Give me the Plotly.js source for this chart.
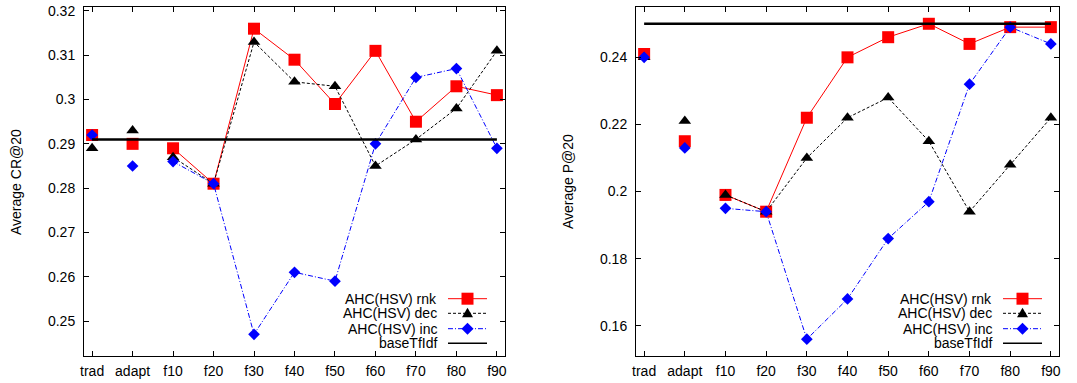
<!DOCTYPE html>
<html><head><meta charset="utf-8">
<script src="https://cdn.plot.ly/plotly-3.0.1.min.js"></script>
<style>html,body{margin:0;padding:0;background:#fff}</style>
</head><body><div id="chart" style="width:1077px;height:383px"></div>
<script>
const categories = ['trad','adapt','f10','f20','f30','f40','f50','f60','f70','f80','f90'];
const seriesNames = ['AHC(HSV) rnk','AHC(HSV) dec','AHC(HSV) inc','baseTfIdf'];

// Left panel: Average CR@20
const crRnk  = [0.292,0.290,0.289,0.281,0.316,0.309,0.299,0.311,0.295,0.303,0.301];
const crDec  = [0.289,0.293,0.287,0.281,0.313,0.304,0.303,0.285,0.291,0.298,0.311];
const crInc  = [0.292,0.285,0.286,0.281,0.247,0.261,0.259,0.290,0.305,0.307,0.289];
const crBase = [0.291,0.291,0.291,0.291,0.291,0.291,0.291,0.291,0.291,0.291,0.291];

// Right panel: Average P@20
const pRnk  = [0.241,0.215,0.199,0.194,0.222,0.240,0.246,0.250,0.244,0.249,0.249];
const pDec  = [0.240,0.221,0.199,0.194,0.210,0.222,0.228,0.215,0.194,0.208,0.222];
const pInc  = [0.240,0.213,0.195,0.194,0.156,0.168,0.186,0.197,0.232,0.249,0.244];
const pBase = [0.250,0.250,0.250,0.250,0.250,0.250,0.250,0.250,0.250,0.250,0.250];

const crTicks = [0.25,0.26,0.27,0.28,0.29,0.30,0.31,0.32];
const pTicks  = [0.16,0.18,0.20,0.22,0.24];

const W = 1077, H = 383;
const FONT = 'Liberation Sans, Arial, sans-serif';
const FS = 14;

const styles = [
  {color:'#ff0000', dash:'solid', width:1, symbol:'square', size:12},
  {color:'#000000', dash:'3px,2px', width:1, symbol:'triangle-up', size:11},
  {color:'#0000ff', dash:'5px,2px,1px,2px', width:1, symbol:'diamond', size:9},
];

function seriesTraces(vals, st, xa, ya) {
  return [
    {x: categories.slice(0,2), y: vals.slice(0,2), type:'scatter', mode:'markers',
     marker:{symbol:st.symbol, size:st.size, color:st.color}, xaxis:xa, yaxis:ya, showlegend:false, hoverinfo:'skip'},
    {x: categories.slice(2), y: vals.slice(2), type:'scatter', mode:'lines+markers',
     line:{color:st.color, dash:st.dash, width:st.width},
     marker:{symbol:st.symbol, size:st.size, color:st.color}, xaxis:xa, yaxis:ya, showlegend:false}
  ];
}
function baseTrace(vals, xa, ya) {
  return {x: categories, y: vals, type:'scatter', mode:'lines', line:{color:'#000', width:2.5},
          xaxis:xa, yaxis:ya, showlegend:false};
}

const data = [
  ...seriesTraces(crRnk, styles[0], 'x', 'y'),
  ...seriesTraces(crDec, styles[1], 'x', 'y'),
  ...seriesTraces(crInc, styles[2], 'x', 'y'),
  baseTrace(crBase, 'x', 'y'),
  ...seriesTraces(pRnk, styles[0], 'x2', 'y2'),
  ...seriesTraces(pDec, styles[1], 'x2', 'y2'),
  ...seriesTraces(pInc, styles[2], 'x2', 'y2'),
  baseTrace(pBase, 'x2', 'y2'),
];

const yDom = [1-356/H, 1-7/H];
function xAxis(dom, anchor) {
  return {domain:dom, anchor:anchor, type:'category', range:[-0.2,10.2],
    showline:true, mirror:'ticks', linecolor:'#000', linewidth:1,
    ticks:'inside', ticklen:5, tickcolor:'#000', showgrid:false, zeroline:false,
    tickfont:{family:FONT, size:FS, color:'#000'}, ticklabelstandoff:2, fixedrange:true};
}
function yAxis(range, tv, anchor) {
  return {domain:yDom, anchor:anchor, range:range, tickvals:tv,
    ticktext: tv.map(v => String(+v.toFixed(2))),
    showline:true, mirror:'ticks', linecolor:'#000', linewidth:1,
    ticks:'inside', ticklen:5, tickcolor:'#000', showgrid:false, zeroline:false,
    tickfont:{family:FONT, size:FS, color:'#000'}, ticklabelstandoff:5, fixedrange:true};
}

// custom legend (text right-aligned, key sample to its right), positioned in pixels
const annotations = [];
const shapes = [];
const rowsY = [298.7, 313.3, 328.7, 343.3];
function addLegend(textRight, lx0, lx1) {
  const mx = (lx0+lx1)/2;
  seriesNames.forEach((name, i) => {
    const py = rowsY[i];
    annotations.push({xref:'paper', yref:'paper', x:textRight/W, y:1-py/H, xanchor:'right', yanchor:'middle',
      text:name, showarrow:false, font:{family:FONT, size:FS, color:'#000'}, borderpad:0});
    if (i < 3) {
      const st = styles[i];
      shapes.push({type:'line', xref:'paper', yref:'paper', x0:lx0/W, x1:lx1/W, y0:1-py/H, y1:1-py/H,
        line:{color:st.color, width:1, dash:st.dash}});
      let path;
      if (st.symbol === 'square') path = 'M-6,-6 L6,-6 L6,6 L-6,6 Z';
      else if (st.symbol === 'triangle-up') path = 'M-5.5,-4 L5.5,-4 L0,5.5 Z';
      else path = 'M0,-6 L6,0 L0,6 L-6,0 Z';
      shapes.push({type:'path', xref:'paper', yref:'paper', xsizemode:'pixel', ysizemode:'pixel',
        xanchor:mx/W, yanchor:1-py/H, path:path, fillcolor:st.color, line:{width:0}});
    } else {
      shapes.push({type:'line', xref:'paper', yref:'paper', x0:lx0/W, x1:lx1/W, y0:1-py/H, y1:1-py/H,
        line:{color:'#000', width:1.5}});
    }
  });
}
addLegend(438, 448, 487);
addLegend(993, 1003, 1042);

annotations.push({xref:'paper', yref:'paper', x:16/W, y:1-182/H, text:'Average CR@20', textangle:-90,
  showarrow:false, xanchor:'center', yanchor:'middle', font:{family:FONT, size:FS, color:'#000'}});
annotations.push({xref:'paper', yref:'paper', x:568/W, y:1-182/H, text:'Average P@20', textangle:-90,
  showarrow:false, xanchor:'center', yanchor:'middle', font:{family:FONT, size:FS, color:'#000'}});

const layout = {
  width:W, height:H, margin:{l:0,r:0,t:0,b:0}, paper_bgcolor:'#fff', plot_bgcolor:'#fff',
  showlegend:false,
  xaxis: xAxis([84/W, 505/W], 'y'),
  yaxis: yAxis([0.2421, 0.3209], crTicks, 'x'),
  xaxis2: xAxis([636/W, 1059/W], 'y2'),
  yaxis2: yAxis([0.151, 0.255], pTicks, 'x2'),
  annotations: annotations, shapes: shapes,
  font:{family:FONT, size:FS, color:'#000'}
};

Plotly.newPlot('chart', data, layout, {displayModeBar:false, staticPlot:true});
</script></body></html>
